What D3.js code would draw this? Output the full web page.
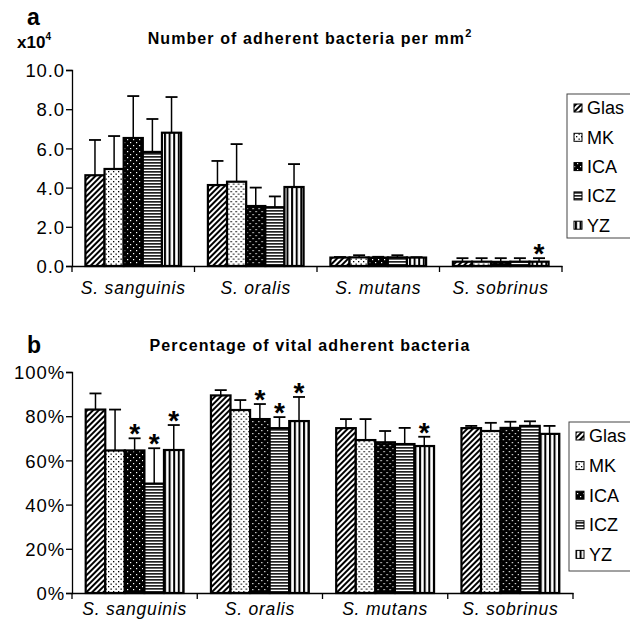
<!DOCTYPE html>
<html>
<head>
<meta charset="utf-8">
<script src="https://cdn.jsdelivr.net/npm/d3@7"></script>
<style>
  body { margin: 0; background: #fff; }
  text { font-family: "Liberation Sans", Arial, sans-serif; fill: #000; }
</style>
</head>
<body>
<div id="chart"></div>
<script>
var species = ["S. sanguinis", "S. oralis", "S. mutans", "S. sobrinus"];
var materials = ["Glas", "MK", "ICA", "ICZ", "YZ"];

// panel a: adherent bacteria per mm2 (x10^4), rows = species, cols = materials
var countMean = [
  [4.63, 4.95, 6.53, 5.82, 6.80],
  [4.13, 4.30, 3.06, 3.00, 4.03],
  [0.43, 0.44, 0.43, 0.44, 0.43],
  [0.22, 0.22, 0.21, 0.22, 0.22]
];
var countErr = [
  [6.43, 6.63, 8.67, 7.50, 8.62],
  [5.36, 6.22, 4.00, 3.55, 5.20],
  [0.46, 0.55, 0.47, 0.55, 0.45],
  [0.40, 0.40, 0.40, 0.40, 0.40]
];
var countStar = [
  [0, 0, 0, 0, 0],
  [0, 0, 0, 0, 0],
  [0, 0, 0, 0, 0],
  [0, 0, 0, 0, 1]
];
var countTicks = [0, 2, 4, 6, 8, 10];

// panel b: percentage of vital adherent bacteria
var vitalMean = [
  [83.0, 64.5, 64.5, 49.5, 64.7],
  [89.4, 82.8, 78.7, 74.6, 77.8],
  [74.6, 69.2, 68.2, 67.4, 66.5],
  [74.6, 73.3, 74.7, 75.6, 72.0]
];
var vitalErr = [
  [90.3, 83.0, 70.0, 65.5, 76.0],
  [91.8, 87.3, 85.5, 79.6, 88.7],
  [78.7, 78.7, 73.3, 74.7, 70.7],
  [75.6, 77.0, 77.5, 77.7, 75.6]
];
var vitalStar = [
  [0, 0, 1, 1, 1],
  [0, 0, 1, 1, 1],
  [0, 0, 0, 0, 1],
  [0, 0, 0, 0, 0]
];
var vitalTicks = [0, 20, 40, 60, 80, 100];

var W = 630, H = 622;
var svg = d3.select("#chart").append("svg")
    .attr("width", W)
    .attr("height", H);

// fill patterns
var defs = svg.append("defs");

var p = defs.append("pattern").attr("id", "p-Glas")
    .attr("patternUnits", "userSpaceOnUse")
    .attr("width", 4).attr("height", 4)
    .attr("patternTransform", "rotate(45)");
p.append("rect").attr("width", 4).attr("height", 4).attr("fill", "#fff");
p.append("rect").attr("width", 2).attr("height", 4).attr("fill", "#000");

p = defs.append("pattern").attr("id", "p-MK")
    .attr("patternUnits", "userSpaceOnUse")
    .attr("width", 5).attr("height", 5);
p.append("rect").attr("width", 5).attr("height", 5).attr("fill", "#fff");
p.append("rect").attr("x", 1).attr("y", 1).attr("width", 1.3).attr("height", 1.3).attr("fill", "#000");
p.append("rect").attr("x", 3.5).attr("y", 3.5).attr("width", 1.3).attr("height", 1.3).attr("fill", "#000");

p = defs.append("pattern").attr("id", "p-ICA")
    .attr("patternUnits", "userSpaceOnUse")
    .attr("width", 6).attr("height", 6);
p.append("rect").attr("width", 6).attr("height", 6).attr("fill", "#000");
p.append("rect").attr("x", 1).attr("y", 1).attr("width", 1.2).attr("height", 1.2).attr("fill", "#fff");
p.append("rect").attr("x", 4).attr("y", 4).attr("width", 1.2).attr("height", 1.2).attr("fill", "#fff");

p = defs.append("pattern").attr("id", "p-ICZ")
    .attr("patternUnits", "userSpaceOnUse")
    .attr("width", 6).attr("height", 3);
p.append("rect").attr("width", 6).attr("height", 3).attr("fill", "#fff");
p.append("rect").attr("y", 0).attr("width", 6).attr("height", 1.7).attr("fill", "#222");

p = defs.append("pattern").attr("id", "p-YZ")
    .attr("patternUnits", "userSpaceOnUse")
    .attr("width", 4.6).attr("height", 4);
p.append("rect").attr("width", 4.6).attr("height", 4).attr("fill", "#fff");
p.append("rect").attr("x", 0).attr("width", 2).attr("height", 4).attr("fill", "#000");

function drawPanel(cfg) {
  var x0 = d3.scaleBand().domain(species).range(cfg.xr).padding(0);
  var x1 = d3.scaleBand().domain(materials)
      .range([0, x0.bandwidth()]).paddingInner(0).paddingOuter(0.7);
  var y = d3.scaleLinear().domain(cfg.domain).range(cfg.yr);

  var g = svg.append("g");

  // y axis
  var yAxis = d3.axisLeft(y).tickValues(cfg.ticks).tickSize(6).tickFormat(cfg.fmt);
  var ya = g.append("g").attr("transform", "translate(" + cfg.xr[0] + ",0)").call(yAxis);
  ya.select(".domain").attr("stroke", "#000").attr("stroke-width", 1.3);
  ya.selectAll(".tick line").attr("stroke", "#000").attr("stroke-width", 1.3);
  ya.selectAll(".tick text")
      .attr("font-size", 18.5)
      .attr("letter-spacing", 0.9)
      .attr("x", -7)
      .attr("dy", "0.36em")
      .style("font-family", "'Liberation Sans', Arial, sans-serif");

  // bars
  species.forEach(function(sp, i) {
    var grp = g.append("g").attr("transform", "translate(" + x0(sp) + ",0)");
    materials.forEach(function(m, j) {
      var v = cfg.mean[i][j], e = cfg.err[i][j];
      var cx = x1(m) + x1.bandwidth() / 2;
      grp.append("line")
          .attr("x1", cx).attr("x2", cx)
          .attr("y1", y(v)).attr("y2", y(e))
          .attr("stroke", "#000").attr("stroke-width", 1.5);
      grp.append("line")
          .attr("x1", cx - 6).attr("x2", cx + 6)
          .attr("y1", y(e)).attr("y2", y(e))
          .attr("stroke", "#000").attr("stroke-width", 1.8);
      grp.append("rect")
          .attr("x", x1(m))
          .attr("y", y(v))
          .attr("width", x1.bandwidth())
          .attr("height", y(0) - y(v))
          .attr("fill", "url(#p-" + m + ")")
          .attr("stroke", "#000")
          .attr("stroke-width", 2.2);
      if (cfg.star[i][j]) {
        grp.append("text")
            .attr("x", cx)
            .attr("y", y(e) + 5)
            .attr("text-anchor", "middle")
            .attr("font-size", 28)
            .attr("font-weight", "bold")
            .text("*");
      }
    });
  });

  // x axis
  var xAxis = d3.axisBottom(x0).tickSize(0).tickFormat("");
  var xa = g.append("g").attr("transform", "translate(0," + cfg.yr[0] + ")").call(xAxis);
  xa.select(".domain").attr("stroke", "#000").attr("stroke-width", 1.4);
  xa.selectAll(".tick").remove();
  var bounds = species.map(function(s) { return x0(s); }).concat([cfg.xr[1]]);
  xa.selectAll(".sep").data(bounds).enter().append("line")
      .attr("x1", function(d) { return d; }).attr("x2", function(d) { return d; })
      .attr("y1", 0).attr("y2", 6)
      .attr("stroke", "#000").attr("stroke-width", 1.3);
  g.selectAll(".xlab").data(species).enter().append("text")
      .attr("x", function(d) { return x0(d) + x0.bandwidth() / 2; })
      .attr("y", cfg.labelY)
      .attr("text-anchor", "middle")
      .attr("font-size", 17.5)
      .attr("letter-spacing", 0.8)
      .attr("font-style", "italic")
      .text(function(d) { return d; });

  // title
  var t = g.append("text")
      .attr("x", 310).attr("y", cfg.titleY)
      .attr("text-anchor", "middle")
      .attr("font-size", 16)
      .attr("font-weight", "bold")
      .attr("letter-spacing", 1.1);
  t.append("tspan").text(cfg.title);
  if (cfg.sup) {
    t.append("tspan").attr("dy", -7).attr("font-size", 11).text(cfg.sup);
  }

  // panel letter
  g.append("text")
      .attr("x", 27).attr("y", cfg.letterY)
      .attr("font-size", 23)
      .attr("font-weight", "bold")
      .text(cfg.letter);

  // legend
  var lg = g.append("g");
  lg.append("rect")
      .attr("x", cfg.legend.x).attr("y", cfg.legend.y)
      .attr("width", 80).attr("height", cfg.legend.h)
      .attr("fill", "#fff").attr("stroke", "#444").attr("stroke-width", 1);
  materials.forEach(function(m, j) {
    var yy = cfg.legend.y + 14 + j * cfg.legend.step;
    lg.append("rect")
        .attr("x", cfg.legend.x + 7).attr("y", yy - 4)
        .attr("width", 8).attr("height", 8)
        .attr("fill", "url(#p-" + m + ")")
        .attr("stroke", "#000").attr("stroke-width", 1);
    lg.append("text")
        .attr("x", cfg.legend.x + 20).attr("y", yy)
        .attr("dy", "0.36em")
        .attr("font-size", 18)
        .text(m);
  });

  return g;
}

var ga = drawPanel({
  xr: [72, 562], yr: [266, 70], domain: [0, 10], ticks: countTicks,
  fmt: d3.format(".1f"),
  mean: countMean, err: countErr, star: countStar,
  labelY: 294, titleY: 44, title: "Number of adherent bacteria per mm", sup: "2",
  letter: "a", letterY: 25,
  legend: { x: 567, y: 94, h: 144, step: 29.3 }
});
var xt = ga.append("text")
    .attr("x", 17).attr("y", 48)
    .attr("font-size", 17)
    .attr("font-weight", "bold");
xt.append("tspan").text("x10");
xt.append("tspan").attr("dy", -8).attr("font-size", 10).text("4");

drawPanel({
  xr: [72, 573], yr: [593, 372], domain: [0, 100], ticks: vitalTicks,
  fmt: function(d) { return d + "%"; },
  mean: vitalMean, err: vitalErr, star: vitalStar,
  labelY: 615, titleY: 351, title: "Percentage of vital adherent bacteria", sup: null,
  letter: "b", letterY: 353,
  legend: { x: 569, y: 422, h: 149, step: 29.6 }
});
</script>
</body>
</html>
